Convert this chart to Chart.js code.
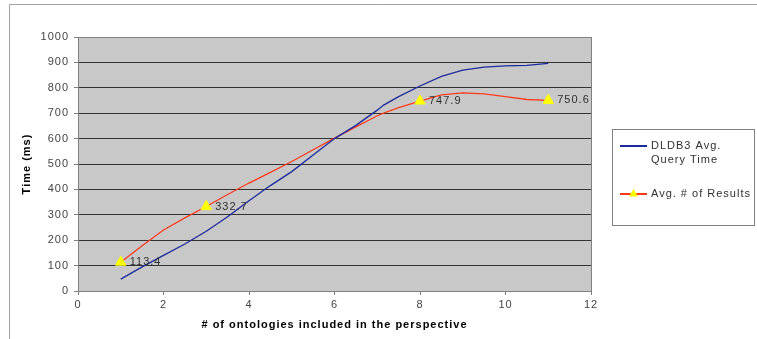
<!DOCTYPE html>
<html>
<head>
<meta charset="utf-8">
<script src="https://cdn.jsdelivr.net/npm/chart.js@4/dist/chart.umd.min.js"></script>
<style>
  body { margin: 0; background: #fff; }
  canvas { display: block; }
</style>
</head>
<body>
<canvas id="perfChart" width="757" height="339"></canvas>
<script>
// values
const xValues = [1, 1.5, 2, 2.5, 3, 3.5, 4, 4.5, 5, 5.5, 6, 6.5, 7, 7.15, 7.5, 8, 8.5, 9, 9.5, 10, 10.5, 11];
const queryTime = [47, 95, 140, 185, 235, 292, 355, 415, 470, 535, 600, 652, 712, 732, 765, 807, 845, 870, 881, 886, 888, 896];
const avgResults = [113.4, 178, 240, 288, 332.7, 380, 425, 467, 510, 556, 602, 646, 690, 700, 722, 747.9, 772, 780, 776, 765, 754, 750.6];
const labelledX = [1, 3, 8, 11];
const yTicks = { min: 0, max: 1000, step: 100 };
const xTicks = { min: 0, max: 12, step: 2 };

const toPoints = ys => xValues.map((x, i) => ({ x: x, y: ys[i] }));
const markerRadius = xValues.map(x => labelledX.includes(x) ? 6 : 0);

const FONT = '"Liberation Sans", Arial, sans-serif';

const decorations = {
    id: 'decorations',
    beforeDraw(chart) {
        const ctx = chart.ctx;
        const a = chart.chartArea;
        ctx.letterSpacing = '1px';
        ctx.save();
        // outer frame (cropped)
        ctx.strokeStyle = '#a0a0a0';
        ctx.lineWidth = 1;
        ctx.beginPath();
        ctx.moveTo(9.5, 339);
        ctx.lineTo(9.5, 4.5);
        ctx.lineTo(757, 4.5);
        ctx.stroke();
        // plot background
        ctx.fillStyle = '#c8c8c8';
        ctx.fillRect(a.left, a.top, a.right - a.left, a.bottom - a.top);
        ctx.restore();
    },
    beforeDatasetsDraw(chart) {
        const ctx = chart.ctx;
        const a = chart.chartArea;
        ctx.save();
        ctx.strokeStyle = '#808080';
        ctx.lineWidth = 1;
        ctx.beginPath();
        ctx.moveTo(Math.round(a.right) + 0.5, a.top);
        ctx.lineTo(Math.round(a.right) + 0.5, a.bottom);
        ctx.stroke();
        ctx.restore();
    },
    afterDraw(chart) {
        const ctx = chart.ctx;
        const a = chart.chartArea;
        const xs = chart.scales.x;
        const ys = chart.scales.y;
        ctx.save();
        ctx.letterSpacing = '1px';

        // data labels on the marked points
        ctx.font = '11px ' + FONT;
        ctx.fillStyle = '#303030';
        ctx.textAlign = 'left';
        ctx.textBaseline = 'middle';
        xValues.forEach((x, i) => {
            if (!labelledX.includes(x)) return;
            ctx.fillText(String(avgResults[i]), xs.getPixelForValue(x) + 9, ys.getPixelForValue(avgResults[i]));
        });

        // axis titles
        ctx.font = 'bold 11px ' + FONT;
        ctx.fillStyle = '#000';
        ctx.textAlign = 'center';
        ctx.fillText('# of ontologies included in the perspective', (a.left + a.right) / 2, 325);
        ctx.save();
        ctx.translate(27, (a.top + a.bottom) / 2);
        ctx.rotate(-Math.PI / 2);
        ctx.fillText('Time (ms)', 0, 0);
        ctx.restore();

        // legend box
        ctx.strokeStyle = '#808080';
        ctx.lineWidth = 1;
        ctx.strokeRect(612.5, 129.5, 142, 96);
        const ds = chart.data.datasets;
        ctx.lineWidth = 2;
        ctx.strokeStyle = ds[0].borderColor;
        ctx.beginPath();
        ctx.moveTo(620, 146);
        ctx.lineTo(647, 146);
        ctx.stroke();
        ctx.strokeStyle = ds[1].borderColor;
        ctx.beginPath();
        ctx.moveTo(620, 194);
        ctx.lineTo(647, 194);
        ctx.stroke();
        ctx.fillStyle = '#ffff00';
        ctx.beginPath();
        ctx.moveTo(633.5, 189);
        ctx.lineTo(638, 196.5);
        ctx.lineTo(629, 196.5);
        ctx.closePath();
        ctx.fill();

        ctx.font = '11px ' + FONT;
        ctx.fillStyle = '#303030';
        ctx.textAlign = 'left';
        ctx.fillText('DLDB3 Avg.', 651, 146);
        ctx.fillText('Query Time', 651, 160);
        ctx.fillText('Avg. # of Results', 651, 194);
        ctx.restore();
    }
};

new Chart(document.getElementById('perfChart').getContext('2d'), {
    type: 'scatter',
    data: {
        datasets: [{
            label: 'DLDB3 Avg. Query Time',
            data: toPoints(queryTime),
            showLine: true,
            borderColor: '#1c2a9c',
            borderWidth: 1.3,
            pointRadius: 0,
            tension: 0
        }, {
            label: 'Avg. # of Results',
            data: toPoints(avgResults),
            showLine: true,
            borderColor: '#ff3a1a',
            borderWidth: 1.3,
            pointStyle: 'triangle',
            pointRadius: markerRadius,
            pointBackgroundColor: '#ffff00',
            pointBorderColor: '#ffff00',
            pointBorderWidth: 1,
            tension: 0
        }]
    },
    options: {
        responsive: false,
        animation: false,
        events: [],
        layout: { padding: { top: 37, right: 166, left: 0, bottom: 0 } },
        plugins: {
            legend: { display: false },
            tooltip: { enabled: false }
        },
        scales: {
            x: {
                type: 'linear',
                min: xTicks.min,
                max: xTicks.max,
                afterFit: s => { s.height = 48; },
                ticks: {
                    stepSize: xTicks.step,
                    color: '#444',
                    padding: 3,
                    font: { family: FONT, size: 11 },
                    callback: v => String(v)
                },
                grid: {
                    drawOnChartArea: false,
                    tickLength: 4,
                    tickColor: '#808080'
                },
                border: { color: '#808080' }
            },
            y: {
                min: yTicks.min,
                max: yTicks.max,
                afterFit: s => { s.width = 78; },
                ticks: {
                    stepSize: yTicks.step,
                    color: '#444',
                    padding: 5,
                    font: { family: FONT, size: 11 },
                    callback: v => String(v)
                },
                grid: {
                    color: ctx => ctx.tick && ctx.tick.value === yTicks.max ? '#808080' : '#333333',
                    tickLength: 4,
                    tickColor: '#808080'
                },
                border: { color: '#808080' }
            }
        }
    },
    plugins: [decorations]
});
</script>
</body>
</html>
